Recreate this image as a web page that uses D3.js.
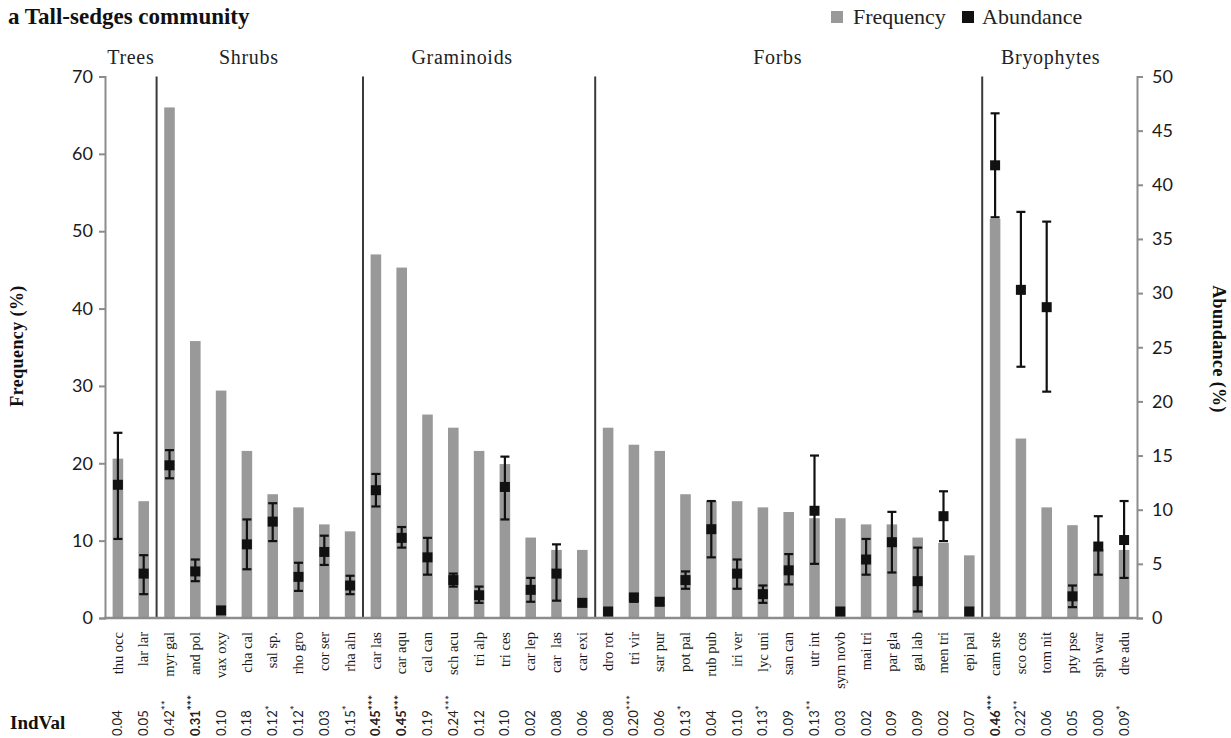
<!DOCTYPE html>
<html>
<head>
<meta charset="utf-8">
<script src="https://cdn.jsdelivr.net/npm/d3@7"></script>
<style>
  body { margin: 0; background: #fff; }
  svg { display: block; }
</style>
</head>
<body>
<div id="chart"></div>
<script>
// species codes, left to right
const species = ['thu occ', 'lar lar', 'myr gal', 'and pol', 'vax oxy', 'cha cal', 'sal sp.', 'rho gro', 'cor ser', 'rha aln',
  'car las', 'car aqu', 'cal can', 'sch acu', 'tri alp', 'tri ces', 'car lep', 'car  las', 'car exi',
  'dro rot', 'tri vir', 'sar pur', 'pot pal', 'rub pub', 'iri ver', 'lyc uni', 'san can', 'utr int', 'sym novb',
  'mai tri', 'par gla', 'gal lab', 'men tri', 'epi pal',
  'cam ste', 'sco cos', 'tom nit', 'pty pse', 'sph war', 'dre adu']

// frequency (%), left axis
const frequency = [20.6, 15.1, 66.0, 35.8, 29.4, 21.6, 16.0, 14.3, 12.1, 11.2,
  47.0, 45.3, 26.3, 24.6, 21.6, 19.9, 10.4, 8.8, 8.8,
  24.6, 22.4, 21.6, 16.0, 15.1, 15.1, 14.3, 13.7, 12.9, 12.9,
  12.1, 12.1, 10.4, 9.7, 8.1,
  51.6, 23.2, 14.3, 12.0, 8.9, 8.8]

// abundance (%), right axis: mean, lower and upper end of the error bar
const abundance = [12.3, 4.1, 14.1, 4.3, 0.7, 6.8, 8.9, 3.8, 6.1, 3.0,
  11.8, 7.4, 5.6, 3.5, 2.1, 12.1, 2.6, 4.1, 1.4,
  0.6, 1.9, 1.5, 3.5, 8.2, 4.1, 2.2, 4.4, 9.9, 0.6,
  5.4, 7.0, 3.4, 9.4, 0.6,
  41.8, 30.3, 28.7, 2.0, 6.6, 7.2]
const abundanceLow = [7.3, 2.2, 12.9, 3.4, 0.5, 4.5, 7.1, 2.5, 4.9, 2.2,
  10.3, 6.5, 4.0, 2.9, 1.4, 9.1, 1.5, 1.6, 1.1,
  0.4, 1.5, 1.2, 2.7, 5.6, 2.7, 1.4, 3.1, 5.0, 0.4,
  4.0, 4.2, 0.6, 7.1, 0.4,
  37.0, 23.2, 20.9, 1.0, 4.0, 3.7]
const abundanceHigh = [17.1, 5.8, 15.5, 5.4, 0.9, 9.1, 10.6, 5.1, 7.6, 3.9,
  13.3, 8.4, 7.4, 4.1, 2.9, 14.9, 3.7, 6.8, 1.7,
  0.8, 2.2, 1.8, 4.3, 10.8, 5.4, 3.0, 5.9, 15.0, 0.8,
  7.3, 9.8, 6.5, 11.7, 0.8,
  46.6, 37.5, 36.6, 3.0, 9.4, 10.8]

// indicator values and significance
const indVal = ['0.04', '0.05', '0.42', '0.31', '0.10', '0.18', '0.12', '0.12', '0.03', '0.15',
  '0.45', '0.45', '0.19', '0.24', '0.12', '0.10', '0.02', '0.08', '0.06',
  '0.08', '0.20', '0.06', '0.13', '0.04', '0.10', '0.13', '0.09', '0.13', '0.03',
  '0.02', '0.09', '0.09', '0.02', '0.07',
  '0.46', '0.22', '0.06', '0.05', '0.00', '0.09']
const indStars = ['', '', '**', '***', '', '', '*', '*', '', '*',
  '***', '***', '', '***', '', '', '', '', '',
  '', '***', '', '*', '', '', '*', '', '**', '',
  '', '', '', '', '',
  '***', '**', '', '', '', '*']
const indBold = ['0.31', '0.45', '0.46']

// plant groups: name, first and last species index
const groupNames = ['Trees', 'Shrubs', 'Graminoids', 'Forbs', 'Bryophytes']
const groupStart = [0, 2, 10, 19, 34]
const groupEnd = [1, 9, 18, 33, 39]

const freqTicks = [0, 10, 20, 30, 40, 50, 60, 70]
const abundTicks = [0, 5, 10, 15, 20, 25, 30, 35, 40, 45, 50]

const W = 1231, H = 738
const mLeft = 105, mRight = 1137, mTop = 76.5, mBottom = 618
const serif = '"Liberation Serif", "Times New Roman", serif'
const sans = 'Lato, "Open Sans", sans-serif'
const axisGrey = '#8c8c8c'

const svg = d3.select('#chart').append('svg')
  .attr('width', W)
  .attr('height', H)

const x = d3.scaleBand()
  .domain(d3.range(species.length))
  .range([mLeft, mRight])
  .paddingInner(0.59)
  .paddingOuter(0.295)

const yF = d3.scaleLinear().domain([0, 70]).range([mBottom, mTop])
const yA = d3.scaleLinear().domain([0, 50]).range([mBottom, mTop])

// bars
svg.append('g').selectAll('rect')
  .data(frequency)
  .join('rect')
  .attr('x', (d, i) => x(i))
  .attr('width', x.bandwidth())
  .attr('y', d => yF(d))
  .attr('height', d => yF(0) - yF(d))
  .attr('fill', '#999999')

// group separators
const gap = (x.step() - x.bandwidth()) / 2
const sep = svg.append('g')
groupStart.slice(1).forEach(s => {
  const sx = x(s) - gap
  sep.append('line')
    .attr('x1', sx).attr('x2', sx)
    .attr('y1', mTop).attr('y2', mBottom)
    .attr('stroke', '#3a3a3a')
    .attr('stroke-width', 2)
})

// group labels
const nudge = [0, -11, -17, -11, -9]
groupNames.forEach((g, k) => {
  const x0 = x(groupStart[k]) - gap
  const x1 = x(groupEnd[k]) + x.bandwidth() + gap
  svg.append('text')
    .attr('x', (x0 + x1) / 2 + nudge[k])
    .attr('y', 64)
    .attr('text-anchor', 'middle')
    .attr('font-family', serif)
    .attr('font-size', 20)
    .attr('letter-spacing', 0.7)
    .attr('fill', '#222')
    .text(g)
})

// axes
const leftAxis = d3.axisLeft(yF).tickValues(freqTicks).tickSize(6).tickPadding(6)
const rightAxis = d3.axisRight(yA).tickValues(abundTicks).tickSize(6).tickPadding(9)

const gl = svg.append('g').attr('transform', `translate(${mLeft},0)`).call(leftAxis)
const gr = svg.append('g').attr('transform', `translate(${mRight},0)`).call(rightAxis)
;[gl, gr].forEach(g => {
  g.select('.domain').attr('stroke', axisGrey).attr('stroke-width', 2)
  g.selectAll('.tick line').attr('stroke', axisGrey).attr('stroke-width', 2)
  g.selectAll('.tick text')
    .attr('font-family', sans)
    .attr('font-size', 18)
    .attr('fill', '#1a1a1a')
})

// baseline
svg.append('line')
  .attr('x1', mLeft - 1).attr('x2', mRight + 1)
  .attr('y1', mBottom).attr('y2', mBottom)
  .attr('stroke', axisGrey)
  .attr('stroke-width', 2.5)

// error bars and markers
const eb = svg.append('g').attr('stroke', '#111').attr('stroke-width', 2.2)
abundance.forEach((a, i) => {
  const cx = x(i) + x.bandwidth() / 2
  const lo = yA(abundanceLow[i]), hi = yA(abundanceHigh[i])
  eb.append('line').attr('x1', cx).attr('x2', cx).attr('y1', lo).attr('y2', hi)
  eb.append('line').attr('x1', cx - 4.5).attr('x2', cx + 4.5).attr('y1', lo).attr('y2', lo)
  eb.append('line').attr('x1', cx - 4.5).attr('x2', cx + 4.5).attr('y1', hi).attr('y2', hi)
})
svg.append('g').selectAll('rect')
  .data(abundance)
  .join('rect')
  .attr('x', (d, i) => x(i) + x.bandwidth() / 2 - 5)
  .attr('y', d => yA(d) - 5)
  .attr('width', 10)
  .attr('height', 10)
  .attr('fill', '#111')

// species labels
svg.append('g').selectAll('text')
  .data(species)
  .join('text')
  .attr('transform', (d, i) => `translate(${x(i) + x.bandwidth() / 2},632) rotate(-90)`)
  .attr('dy', '0.32em')
  .attr('text-anchor', 'end')
  .attr('font-family', serif)
  .attr('font-size', 14.5)
  .attr('fill', '#1a1a1a')
  .style('white-space', 'pre')
  .text(d => d)

// IndVal row
const iv = svg.append('g').selectAll('text')
  .data(indVal)
  .join('text')
  .attr('transform', (d, i) => `translate(${x(i) + x.bandwidth() / 2},736) rotate(-90)`)
  .attr('dy', '0.35em')
  .attr('text-anchor', 'start')
  .attr('font-family', sans)
  .attr('font-size', 13)
  .attr('fill', '#222')
  .attr('font-weight', d => indBold.includes(d) ? 'bold' : 'normal')
iv.append('tspan').text(d => d)
iv.append('tspan')
  .attr('dy', '-0.3em')
  .attr('font-size', 12)
  .text((d, i) => indStars[i])

svg.append('text')
  .attr('x', 10).attr('y', 729)
  .attr('font-family', serif)
  .attr('font-weight', 'bold')
  .attr('font-size', 19)
  .attr('fill', '#111')
  .text('IndVal')

// axis titles
svg.append('text')
  .attr('transform', 'translate(23,346) rotate(-90)')
  .attr('text-anchor', 'middle')
  .attr('font-family', serif)
  .attr('font-weight', 'bold')
  .attr('font-size', 18)
  .attr('letter-spacing', 0.4)
  .attr('fill', '#111')
  .text('Frequency (%)')

svg.append('text')
  .attr('transform', 'translate(1213,349) rotate(90)')
  .attr('text-anchor', 'middle')
  .attr('font-family', serif)
  .attr('font-weight', 'bold')
  .attr('font-size', 18)
  .attr('letter-spacing', 0.4)
  .attr('fill', '#111')
  .text('Abundance (%)')

// title
svg.append('text')
  .attr('x', 8).attr('y', 24)
  .attr('font-family', serif)
  .attr('font-weight', 'bold')
  .attr('font-size', 23)
  .attr('fill', '#111')
  .text('a Tall-sedges community')

// legend
const legend = svg.append('g').attr('font-family', serif).attr('font-size', 22).attr('fill', '#222')
legend.append('rect').attr('x', 831).attr('y', 11).attr('width', 12).attr('height', 12).attr('fill', '#999999')
legend.append('text').attr('x', 853).attr('y', 24).text('Frequency')
legend.append('rect').attr('x', 962).attr('y', 11).attr('width', 12).attr('height', 12).attr('fill', '#111')
legend.append('text').attr('x', 982).attr('y', 24).text('Abundance')
</script>
</body>
</html>
